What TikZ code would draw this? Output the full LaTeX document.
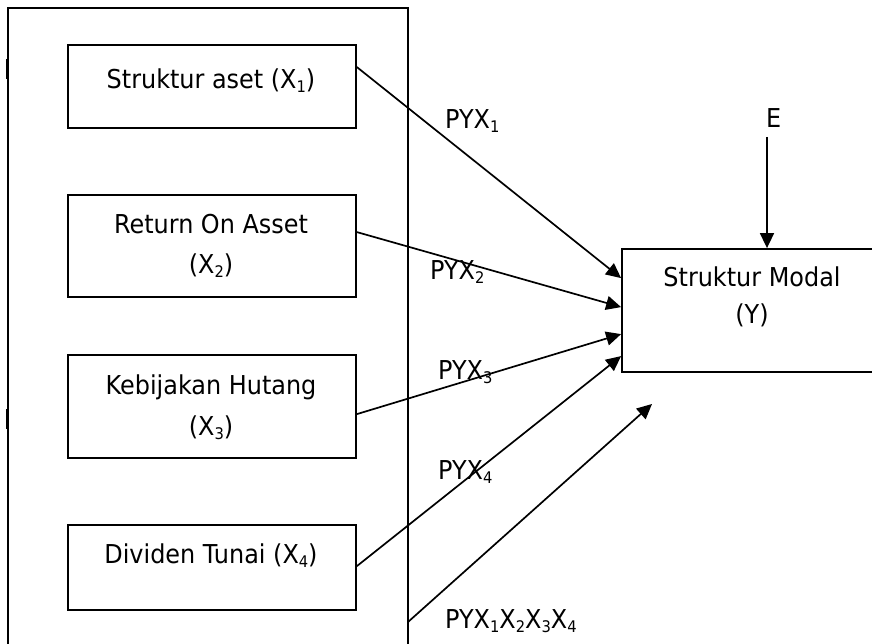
\documentclass[tikz,border=0pt]{standalone}
\usepackage{fontspec}
\setmainfont[FakeStretch=0.92]{DejaVu Sans}
\usetikzlibrary{arrows.meta}
\newcommand{\mysub}[1]{\raisebox{-4pt}{\fontsize{16}{16}\selectfont #1}}
\tikzset{
  boxnode/.style={draw=black, line width=1.8pt, rectangle, inner sep=0pt},
  txt/.style={font=\fontsize{26}{26}\selectfont, inner sep=0pt, anchor=base},
  lbl/.style={font=\fontsize{26}{26}\selectfont, inner sep=0pt, anchor=base west},
  arr/.style={line width=1.7pt, -{Triangle[length=15pt,width=14pt]}},
  frame/.style={line width=1.7pt}
}
\begin{document}
\begin{tikzpicture}[x=1pt,y=-1pt]
\useasboundingbox (0,0) rectangle (872,644);
\clip (0,0) rectangle (872,644);
% outer frame (open at the bottom)
\draw[frame] (8,660) -- (8,8) -- (408,8) -- (408,660);
\draw[line width=1.8pt] (6.5,59) -- (6.5,79);
\draw[line width=1.8pt] (6.5,409) -- (6.5,429);
% boxes
\node[boxnode, minimum width=288pt, minimum height=83pt] (b1) at (212,86.5) {};
\node[boxnode, minimum width=288pt, minimum height=102pt] (b2) at (212,246) {};
\node[boxnode, minimum width=288pt, minimum height=103pt] (b3) at (212,406.5) {};
\node[boxnode, minimum width=288pt, minimum height=85pt] (b4) at (212,567.5) {};
\node[boxnode, minimum width=260pt, minimum height=123pt] (y) at (752,310.5) {};
% box texts
\node[txt] (t1) at (211,89) {Struktur aset (X\mysub{1})};
\node[txt] (t2a) at (211,234) {Return On Asset};
\node[txt] (t2b) at (211,273) {(X\mysub{2})};
\node[txt] (t3a) at (211,394) {Kebijakan Hutang};
\node[txt] (t3b) at (211,435) {(X\mysub{3})};
\node[txt] (t4) at (211,563) {Dividen Tunai (X\mysub{4})};
\node[txt] (ty1) at (752,287) {Struktur Modal};
\node[txt] (ty2) at (752,323) {(Y)};
% labels
\node[lbl] (l1) at (445,129) {PYX\mysub{1}};
\node[lbl] (l2) at (430,279) {PYX\mysub{2}};
\node[lbl] (l3) at (438,379) {PYX\mysub{3}};
\node[lbl] (l4) at (438,479) {PYX\mysub{4}};
\node[lbl] (l5) at (445,628) {PYX\mysub{1}X\mysub{2}X\mysub{3}X\mysub{4}};
\node[lbl] (e) at (766,128) {E};
% connectors
\draw[arr] ([yshift=-23pt]b1.north east) -- ([yshift=-30pt]y.north west);
\draw[arr] ([yshift=-38pt]b2.north east) -- ([yshift=-59pt]y.north west);
\draw[arr] ([yshift=-60pt]b3.north east) -- ([yshift=-86pt]y.north west);
\draw[arr] ([yshift=-42pt]b4.north east) -- ([yshift=-108pt]y.north west);
\coordinate (s5) at (408,622);
\coordinate (e5) at (652,404);
\draw[arr] (s5) -- (e5);
\coordinate (etop) at (767,137);
\draw[arr] (etop) -- (etop |- y.north);
\end{tikzpicture}
\end{document}
